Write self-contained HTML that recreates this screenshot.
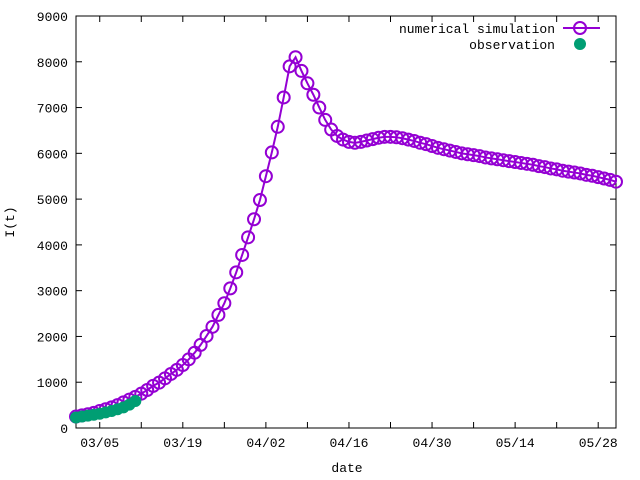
<!DOCTYPE html>
<html><head><meta charset="utf-8"><style>
html,body{margin:0;padding:0;background:#fff;}
svg{display:block;font-family:"Liberation Mono",monospace;font-size:13px;}
</style></head><body>
<svg id="chart" width="640" height="480" xmlns="http://www.w3.org/2000/svg">
<rect x="76" y="16" width="540" height="412" fill="none" stroke="#000" stroke-width="1"/>
<g id="axes"></g>
<g id="series"></g>
<text x="14" y="222" transform="rotate(-90 14 222)" text-anchor="middle">I(t)</text>
<text x="347" y="472" text-anchor="middle">date</text>
<g>
<text x="555" y="33" text-anchor="end">numerical simulation</text>
<line x1="563" y1="28" x2="600" y2="28" stroke="#9400d3" stroke-width="2"/>
<circle cx="580" cy="28" r="6" fill="none" stroke="#9400d3" stroke-width="2"/>
<text x="555" y="49" text-anchor="end">observation</text>
<circle cx="580" cy="44" r="6" fill="#009e73"/>
</g>
</svg>
<script>
const yTicks = [0,1000,2000,3000,4000,5000,6000,7000,8000,9000];
const xTickDays = [4,18,32,46,60,74,88];
const xTickLabels = ["03/05","03/19","04/02","04/16","04/30","05/14","05/28"];
const simulation = [250,275,300,330,370,410,450,500,560,620,680,750,830,920,990,1085,1180,1270,1375,1500,1645,1815,2010,2210,2470,2725,3050,3400,3780,4165,4560,4980,5500,6020,6580,7220,7900,8100,7800,7530,7280,7000,6730,6520,6380,6300,6250,6230,6250,6280,6310,6340,6360,6360,6350,6330,6300,6270,6230,6200,6160,6120,6090,6060,6030,6000,5980,5960,5940,5910,5890,5870,5850,5830,5810,5790,5770,5750,5720,5700,5670,5650,5620,5600,5580,5560,5530,5510,5480,5450,5420,5380];
const observation = [230,250,270,290,310,340,370,410,450,510,590];

const X0=76,X1=616,Y0=428,Y1=16,DMAX=91,YMAX=9000;
const sx=d=>X0+d*(X1-X0)/DMAX;
const sy=v=>Y0-v*(Y0-Y1)/YMAX;
const NS="http://www.w3.org/2000/svg";
const axes=document.getElementById('axes');
const series=document.getElementById('series');
function mk(tag,attrs,parent){const e=document.createElementNS(NS,tag);for(const k in attrs)e.setAttribute(k,attrs[k]);parent.appendChild(e);return e;}
yTicks.forEach(v=>{
  const y=sy(v);
  const t1=mk('line',{x1:X0,x2:X0+6,y1:y,y2:y,stroke:'#000'},axes);
  
  
  const t2=mk('line',{x1:X1-6,x2:X1,y1:y,y2:y,stroke:'#000'},axes);
  
  
  const tx=mk('text',{x:68,y:y+5,'text-anchor':'end'},axes);
  tx.textContent=v;
  
  
});
for(let d=xTickDays[0];d<=DMAX;d+=7){
  const x=sx(d);
  const t1=mk('line',{x1:x,x2:x,y1:Y0,y2:Y0-6,stroke:'#000'},axes);
  
  
  const t2=mk('line',{x1:x,x2:x,y1:Y1,y2:Y1+6,stroke:'#000'},axes);
  
  
}
xTickDays.forEach((d,i)=>{
  const tx=mk('text',{x:sx(d),y:447,'text-anchor':'middle'},axes);
  tx.textContent=xTickLabels[i];
  
  
});
const pl=mk('polyline',{points:simulation.map((v,i)=>sx(i)+','+sy(v)).join(' '),fill:'none',stroke:'#9400d3','stroke-width':2},series);


simulation.forEach((v,i)=>{
  const c=mk('circle',{cx:sx(i),cy:sy(v),r:6,fill:'none',stroke:'#9400d3','stroke-width':2},series);
  
  
});
observation.forEach((v,i)=>{
  const c=mk('circle',{cx:sx(i),cy:sy(v),r:6,fill:'#009e73'},series);
  
  
});
</script>
</body></html>
